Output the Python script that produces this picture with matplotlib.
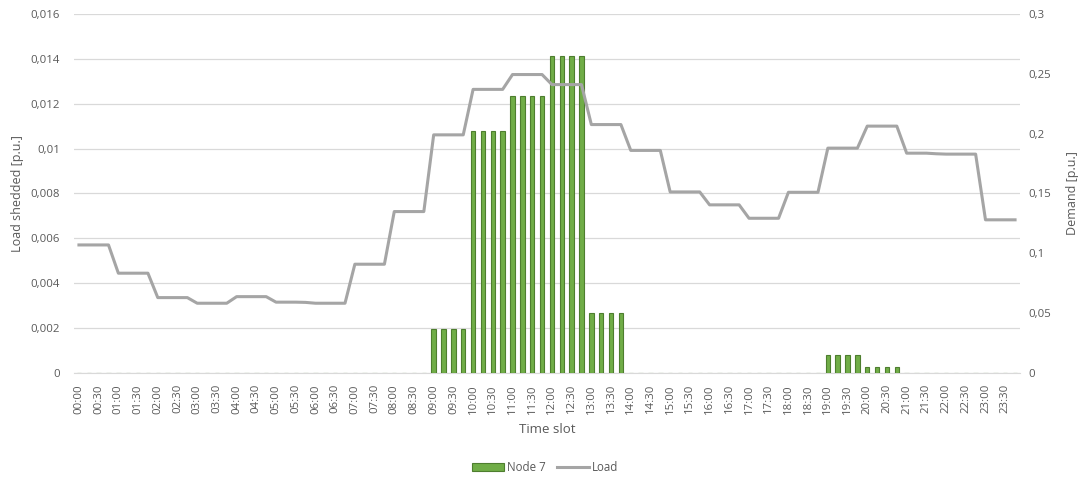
import numpy as np
import matplotlib
matplotlib.use("Agg")
import matplotlib.pyplot as plt
from matplotlib.ticker import FuncFormatter

plt.rcParams['font.family'] = ['Open Sans', 'DejaVu Sans']

# 15-minute time slots over one day
slots = ["%02d:%02d" % (h, m) for h in range(24) for m in (0, 15, 30, 45)]

# load shedded at node 7 [p.u.]
node7 = [0.0] * 36 \
    + [0.00196] * 4 \
    + [0.0108] * 4 \
    + [0.01234] * 4 \
    + [0.01412] * 4 \
    + [0.00269] * 4 \
    + [0.0] * 20 \
    + [0.0008] * 4 \
    + [0.00025] * 4 \
    + [0.0] * 12

# demand [p.u.], hourly levels
load = [0.107, 0.107, 0.107, 0.107,
        0.0834, 0.0834, 0.0834, 0.0834,
        0.063, 0.063, 0.063, 0.063,
        0.0583, 0.0583, 0.0583, 0.0583,
        0.0638, 0.0638, 0.0638, 0.0638,
        0.0592, 0.0592, 0.0592, 0.059,
        0.0583, 0.0583, 0.0583, 0.0583,
        0.0909, 0.0909, 0.0909, 0.0909,
        0.1349, 0.1349, 0.1349, 0.1349,
        0.199, 0.199, 0.199, 0.199,
        0.237, 0.237, 0.237, 0.237,
        0.2494, 0.2494, 0.2494, 0.2494,
        0.241, 0.241, 0.241, 0.241,
        0.2076, 0.2076, 0.2076, 0.2076,
        0.186, 0.186, 0.186, 0.186,
        0.1513, 0.1513, 0.1513, 0.1513,
        0.1405, 0.1405, 0.1405, 0.1405,
        0.1293, 0.1293, 0.1293, 0.1293,
        0.151, 0.151, 0.151, 0.151,
        0.1879, 0.1879, 0.1879, 0.1879,
        0.2063, 0.2063, 0.2063, 0.2063,
        0.1837, 0.1837, 0.1837, 0.1832,
        0.1829, 0.1829, 0.1829, 0.1829,
        0.128, 0.128, 0.128, 0.128]

x = np.arange(len(slots))
txt = '#595959'
grid = '#D9D9D9'

fig = plt.figure(figsize=(10.79, 4.79), dpi=100)
ax = fig.add_axes([0.0686, 0.2213, 0.8767, 0.7495])
ax2 = ax.twinx()

bars = ax.bar(x, node7, width=0.45, color='#70AD47', edgecolor='#4E7E2F',
              linewidth=0.8, label='Node 7', zorder=3)
line, = ax2.plot(x, load, color='#A5A5A5', linewidth=2.2, label='Load', zorder=4)

ax.set_xlim(-0.5, len(slots) - 0.5)
ax.set_ylim(0, 0.016)
ax2.set_ylim(0, 0.3)
ax.set_yticks(np.arange(0, 0.0161, 0.002))
ax2.set_yticks(np.arange(0, 0.301, 0.05))

comma = FuncFormatter(lambda v, p: ('%.3f' % v).rstrip('0').rstrip('.').replace('.', ',') if v != 0 else '0')
comma2 = FuncFormatter(lambda v, p: ('%.2f' % v).rstrip('0').rstrip('.').replace('.', ',') if v != 0 else '0')
ax.yaxis.set_major_formatter(comma)
ax2.yaxis.set_major_formatter(comma2)

ax.set_xticks(x[::2])
ax.set_xticklabels(slots[::2], rotation=90, fontsize=8.2, color=txt)
ax.tick_params(axis='x', length=0, pad=8)
ax.tick_params(axis='y', length=0, labelsize=8.2, labelcolor=txt, pad=10)
ax2.tick_params(axis='y', length=0, labelsize=8.2, labelcolor=txt, pad=6)

ax.grid(axis='y', color=grid, linewidth=0.9, zorder=0)
ax.set_axisbelow(True)
for a in (ax, ax2):
    for s in a.spines.values():
        s.set_visible(False)
ax.spines['bottom'].set_visible(True)
ax.spines['bottom'].set_color(grid)

ax.set_xlabel('Time slot', fontsize=9.5, color=txt, labelpad=7)
ax.set_ylabel('Load shedded [p.u.]', fontsize=9, color=txt, labelpad=5)
ax2.set_ylabel('Demand [p.u.]', fontsize=9, color=txt, labelpad=11)

fig.legend([bars, line], ['Node 7', 'Load'], loc='center', bbox_to_anchor=(0.505, 0.023),
           ncol=2, frameon=False, fontsize=8.3, labelcolor=txt, handlelength=2.8,
           handleheight=0.7, columnspacing=1.0, handletextpad=0.2)

fig.savefig('out.png', dpi=100)
